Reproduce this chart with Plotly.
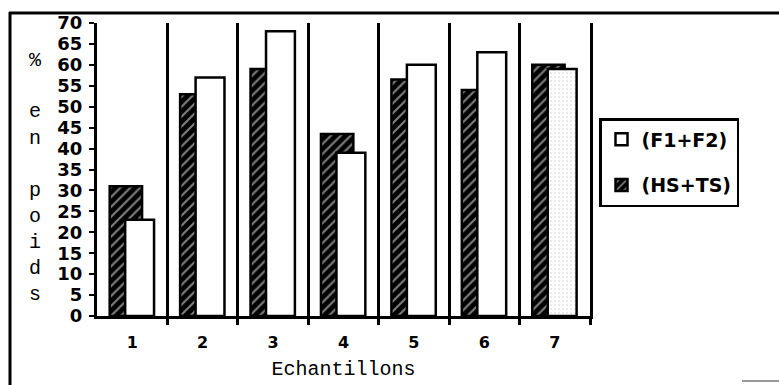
import plotly.graph_objects as go

categories = [1, 2, 3, 4, 5, 6, 7]
cat_labels = ["1", "2", "3", "4", "5", "6", "7"]
f1f2 = [23, 57, 68, 39, 60, 63, 59]
hsts = [31, 53, 59, 43.5, 56.5, 54, 60]
f1f2_patterns = ["", "", "", "", "", "", "."]
y_ticks = list(range(0, 75, 5))
y_title_letters = ["%", "", "e", "n", "", "p", "o", "i", "d", "s"]

W, H = 779, 385
ML, MR, MT, MB = 97, 189, 23, 69
PW, PH = W - ML - MR, H - MT - MB

def px_x(p):
    return (p - ML) / PW

def px_y(p):
    return (H - MB - p) / PH

tick_font = dict(family="DejaVu Sans", size=18, color="black", weight="bold")
mono = dict(family="Liberation Mono", size=20, color="black")

fig = go.Figure()
fig.add_trace(go.Bar(
    x=categories, y=hsts, name="(HS+TS)", legendgroup="b", legendrank=2,
    width=0.46, offset=-0.32,
    marker=dict(color="black", line=dict(color="black", width=2.5),
                pattern=dict(shape="/", fgcolor="white", bgcolor="black",
                             size=7, solidity=0.3)),
))
fig.add_trace(go.Bar(
    x=categories, y=f1f2, name="(F1+F2)", legendgroup="a", legendrank=1,
    width=0.41, offset=-0.10,
    marker=dict(color="white", line=dict(color="black", width=2.5),
                pattern=dict(shape=f1f2_patterns, fgcolor="#9a9a9a",
                             bgcolor="white", size=4, solidity=0.12)),
))

fig.update_layout(
    width=W, height=H,
    margin=dict(l=ML, r=MR, t=MT, b=MB, autoexpand=False),
    paper_bgcolor="white", plot_bgcolor="white",
    barmode="overlay",
    showlegend=True,
    legend=dict(x=px_x(599), y=px_y(118), xanchor="left", yanchor="top",
                bordercolor="black", borderwidth=2.5, bgcolor="white",
                font=dict(family="DejaVu Sans", size=19, color="black", weight="bold"),
                traceorder="grouped", tracegroupgap=18),
    xaxis=dict(
        range=[0.5, 7.5], tickmode="array", tickvals=categories, ticktext=cat_labels,
        ticks="", showgrid=False, zeroline=False,
        showline=True, linecolor="black", linewidth=3,
        tickfont=dict(family="DejaVu Sans", size=16, color="black", weight="bold"),
        ticklabelstandoff=10,
        minor=dict(tickmode="array", tickvals=[1.5, 2.5, 3.5, 4.5, 5.5, 6.5, 7.5],
                   ticks="outside", ticklen=6, tickwidth=2.5, tickcolor="black",
                   showgrid=True, gridcolor="black", gridwidth=2.5),
        title=dict(text="Echantillons", font=mono, standoff=10),
    ),
    yaxis=dict(
        range=[0, 70], tickmode="array", tickvals=y_ticks,
        ticks="outside", ticklen=5, tickwidth=2, tickcolor="black",
        showgrid=False, zeroline=False,
        showline=True, linecolor="black", linewidth=3, mirror=True,
        tickfont=tick_font, ticklabelstandoff=3,
    ),
    yaxis2=dict(
        range=[0, 70], overlaying="y", tickmode="array", tickvals=y_ticks,
        ticks="inside", ticklen=5, tickwidth=2, tickcolor="black",
        showticklabels=False, showgrid=False, zeroline=False, showline=False,
    ),
)

for i, ch in enumerate(y_title_letters):
    if ch:
        fig.add_annotation(text=ch, xref="paper", yref="paper",
                           x=px_x(35), y=px_y(60 + 26 * i),
                           xanchor="center", yanchor="middle",
                           showarrow=False, font=mono)

# outer frame
fig.add_shape(type="line", xref="paper", yref="paper",
              x0=px_x(10), x1=px_x(10), y0=px_y(12), y1=px_y(386),
              line=dict(color="black", width=3))
fig.add_shape(type="line", xref="paper", yref="paper",
              x0=px_x(9), x1=px_x(780), y0=px_y(13), y1=px_y(13),
              line=dict(color="black", width=3))
fig.add_shape(type="line", xref="paper", yref="paper",
              x0=px_x(742), x1=px_x(780), y0=px_y(381), y1=px_y(381),
              line=dict(color="#777", width=1.5))

fig.write_html("out.html", config={"displayModeBar": False},
               post_script="document.body.style.margin='0';document.body.style.overflow='hidden';")
